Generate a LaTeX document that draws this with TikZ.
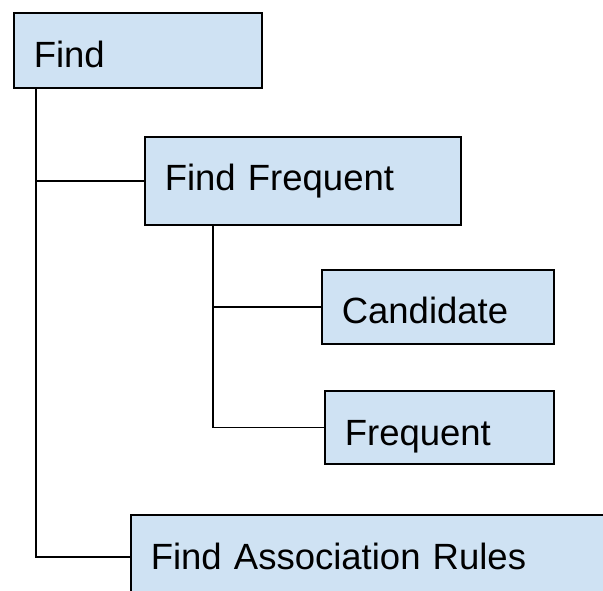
\documentclass[tikz,border=0pt]{standalone}
\usepackage{fontspec}
\setmainfont{Liberation Sans}
\usepackage{xcolor}
\usepackage{tikz}
\usetikzlibrary{calc}

\definecolor{boxblue}{HTML}{CFE2F3}

\tikzset{
  taskbox/.style={draw=black, line width=1.6pt, fill=boxblue, anchor=north west,
    inner xsep=20pt, inner ysep=0pt, align=left,
    font=\fontsize{36.5}{40}\selectfont},
  link/.style={line width=1.6pt, black}
}

\begin{document}
\begin{tikzpicture}[x=1pt, y=-1pt]
  % Page frame
  \useasboundingbox (0,0) rectangle (603,591);
  \clip (0,0) rectangle (603,591);

  % Task boxes
  \node[taskbox, text width=208pt, text height=55pt, text depth=20pt] (find) at (13,12) {Find};
  \node[taskbox, text width=276pt, text height=54pt, text depth=34pt] (ffreq) at (144,136) {Find Frequent};
  \node[taskbox, text width=192pt, text height=54pt, text depth=20pt] (cand) at (321,269) {Candidate};
  \node[taskbox, text width=189pt, text height=55pt, text depth=18pt] (freq) at (324,390) {Frequent};
  \node[taskbox, text width=520pt, text height=55pt, text depth=29pt] (assoc) at (130,514) {Find Association Rules};

  % Trunk from Find
  \coordinate (trunk) at ($(find.south west)+(23,0)$);
  \draw[link] (trunk) -- (trunk |- assoc.west) -- (assoc.west);
  \draw[link] (trunk |- ffreq.west) -- (ffreq.west);

  % Branch from Find Frequent
  \coordinate (branch) at ($(ffreq.south west)+(69,0)$);
  \draw[link] (branch) -- (branch |- freq.west) -- (freq.west);
  \draw[link] (branch |- cand.west) -- (cand.west);
\end{tikzpicture}
\end{document}
